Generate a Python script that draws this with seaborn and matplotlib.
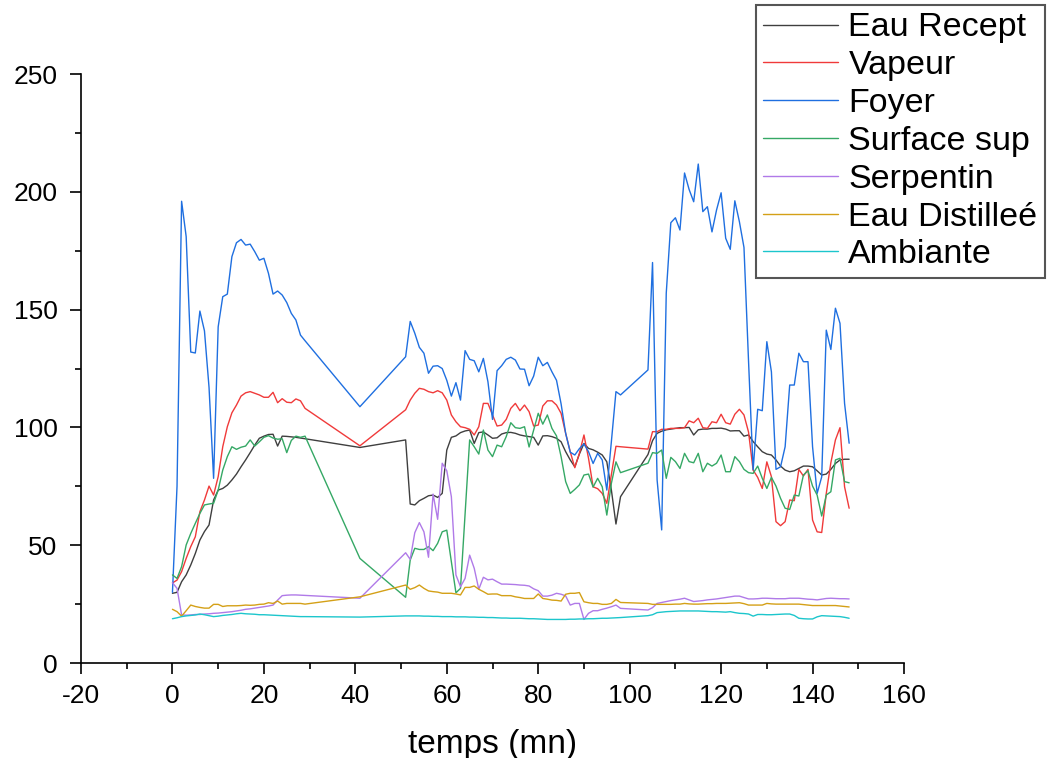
import matplotlib
matplotlib.use("Agg")
import matplotlib.pyplot as plt
from matplotlib.lines import Line2D
from matplotlib.ticker import MultipleLocator
import pandas as pd
import seaborn as sns

# Sampling times (minutes)
temps = [0, 1, 2, 3, 4, 5, 6, 7, 8, 9, 10, 11, 12, 13, 14, 15, 16, 17, 18, 19,
         20, 21, 22, 23, 24, 25, 26, 27, 28, 29,
         41,
         51, 52, 53, 54, 55, 56, 57, 58, 59, 60, 61, 62, 63, 64, 65, 66, 67, 68, 69,
         70, 71, 72, 73, 74, 75, 76, 77, 78, 79, 80, 81, 82, 83, 84, 85, 86, 87, 88,
         89, 90, 91, 92, 93, 94, 95, 96, 97, 98,
         104, 105, 106, 107, 108, 109, 110, 111, 112, 113, 114, 115, 116, 117, 118,
         119, 120, 121, 122, 123, 124, 125, 126, 127, 128, 129, 130, 131, 132, 133,
         134, 135, 136, 137, 138, 139, 140, 141, 142, 143, 144, 145, 146, 147, 148]

eau_recept = [29.6, 30, 34.5, 37.4, 41.6, 46.5, 52.2, 55.8, 58.6, 69.2, 73.4, 74.1, 75.5, 77.7, 80.2,
              83.3, 86.2, 89.3, 92.5, 95.4, 96.3, 97, 97.1, 92.1, 96.3, 96.2, 96, 95.8, 95.5, 95.2,
              91.5,
              94.7, 67.5, 67.1, 68.9, 69.9, 71, 71.3, 70.3, 72, 90.4, 95.8, 96.4, 97.8, 98.5, 98.9,
              93.2, 97.8, 98.1, 96.8, 95.4, 95.6, 97.2, 97.8, 97.9, 97.5, 96.8, 96.4, 96.1, 95.8,
              92.5, 96.4, 96.5, 96.1, 95.4, 93.9, 89.7, 86.2, 83.3, 88.7, 93.2, 91.1, 90.5, 89.5,
              88.3, 85.4, 73.4, 59, 70.6,
              88.5, 94.4, 97.5, 98.4, 99, 99.3, 99.6, 99.9, 99.9, 100, 96.8, 99, 99.3, 99.3, 99.6,
              99.6, 99.7, 99.3, 98.5, 98.6, 98.6, 96.3, 96.8, 94, 91.8, 89.7, 88.7, 88.3, 86.2, 83.6,
              81.9, 81.2, 81.6, 82.6, 83.6, 83.6, 83.3, 81.6, 79.8, 80.2, 82.2, 84.7, 86.2, 86.5, 86.5]

vapeur = [34, 35.2, 38.8, 44.4, 49.4, 53.6, 64.2, 69.2, 75.1, 71.3, 79.1, 91.8, 100.3, 106.2, 109.5,
          113.3, 114.7, 115.2, 114.5, 113.8, 112.8, 112.8, 114.9, 110.5, 112.2, 110.7, 110.5, 112.1,
          111.3, 108.1,
          92.2,
          107.5, 111.6, 114.5, 116.6, 116.2, 115.2, 114.7, 115.6, 114.7, 111.6, 105.3, 102.4, 100.3,
          99.9, 99.2, 96.8, 100.3, 110.2, 110.2, 105.3, 100.6, 101, 103.4, 108.1, 110.2, 107.1, 109.5,
          106.7, 100.6, 101, 109.1, 111.3, 111.3, 109.5, 106, 97.5, 89.7, 82.9, 89, 96.8, 86.9, 74.8,
          74, 72, 67.8, 80, 92, 91.8,
          90.8, 98.2, 98.2, 99.2, 99.2, 99.6, 99.6, 99.6, 99.9, 102.8, 102, 103.9, 99.9, 99.6, 102.4,
          102, 105.6, 102, 101.4, 105.6, 107.7, 105.3, 98, 81.9, 78.8, 74.1, 85.4, 79.1, 60, 58.3,
          60, 69.2, 68.9, 82.2, 79.4, 82.2, 60.7, 55.7, 55.4, 72, 85, 94.7, 99.9, 74.8, 65.7]

foyer = [30, 75, 196, 181, 132, 131.6, 149.4, 141, 117, 78.4, 142.7, 155.5, 156.6, 172.5, 178.4,
         179.8, 177.4, 177.8, 174.6, 171, 171.8, 165.4, 156.6, 157.9, 156.2, 153, 148.4, 145.6,
         139.2, 136.8,
         108.8,
         130, 145, 140, 134, 131.5, 123, 126, 126.2, 125, 120, 113.3, 119, 111.6, 132.6, 128.9,
         128.3, 123.6, 129.3, 119.4, 103.4, 124.1, 126.2, 128.9, 129.8, 128.6, 124.8, 124.7, 117.7,
         121.8, 129.8, 126.2, 127.6, 123.6, 120, 110, 97.5, 89.5, 88.3, 91, 93, 89.7, 84.7, 89,
         86.2, 73.4, 94, 115.2, 113.8,
         124.4, 170, 77.7, 56.5, 157, 186.9, 189, 183.8, 208, 201, 195.8, 211.8, 191.6, 193.7, 183,
         192.3, 199.6, 180.3, 175.6, 196.2, 187.3, 176.4, 128, 82, 107.7, 107.1, 136.4, 123.6, 82.2,
         83.3, 91.8, 118, 118, 131.5, 127.9, 127.9, 91.8, 72, 79, 141.3, 133.1, 150.6, 144.2, 110.2,
         93.3]

surface_sup = [37.4, 35.9, 40.9, 50.1, 55, 59.3, 63.5, 67.1, 67.5, 67.8, 73.4, 81.9, 87.6, 91.8, 90.7,
               91.6, 92.1, 94.7, 92.1, 93.9, 95.8, 96.5, 95.5, 95, 95.2, 89.3, 94.5, 96.3, 95.8, 96.3,
               44.4,
               27.9, 43.7, 48.7, 48.2, 48.2, 49.4, 47.7, 50.8, 55.7, 56.4, 43, 29.8, 31.7, 63.2, 94.7,
               91.8, 88.7, 98.9, 90.4, 87.6, 92.5, 91.8, 96.1, 102, 99.9, 99.6, 100.3, 91.7, 98.9, 106,
               101.4, 105.3, 99.6, 96.4, 87.6, 77, 72, 73.7, 75.6, 79.8, 80.2, 74.7, 78.4, 74.8, 62.8,
               76.3, 85.4, 80.8,
               84.8, 89.3, 89, 90.4, 78.4, 87.3, 85.5, 82.6, 89, 85.5, 85, 89, 81.2, 84.8, 83.6, 84.8,
               88.3, 81.2, 81.2, 87.6, 85.5, 82.2, 80.8, 80.5, 83.6, 78.4, 74.1, 78.8, 75.1, 69.9, 65.7,
               65.2, 71.3, 70.9, 79.8, 81.6, 75.1, 71.3, 62.4, 71.3, 72.7, 86.2, 86.9, 77, 76.5]

serpentin = [34.1, 31.7, 20.4, 20.3, 20.4, 20.6, 20.6, 20.8, 20.9, 21.1, 21.2, 21.4, 21.6, 21.8, 22.1,
             22.4, 22.8, 23, 23.3, 23.6, 23.9, 24.2, 24.6, 26.7, 28.6, 28.8, 28.9, 28.9, 28.8, 28.7,
             27.5,
             46.8, 44, 55.3, 59.6, 55.7, 44.9, 71.7, 61, 84.8, 81.6, 70.6, 37.4, 32.4, 35.9, 45.8, 40.2,
             31.3, 36.4, 35.3, 35.6, 34.5, 33.5, 33.5, 33.4, 33.3, 33.1, 33, 32.7, 31.5, 30.7, 28.4,
             28.4, 28.8, 29.6, 29.2, 28.5, 24.6, 25.3, 25.3, 18.5, 21.1, 22.2, 22.2, 22.8, 23.3, 23.9,
             24.6, 23.2,
             22.5, 23.5, 25.3, 25.7, 26.1, 26.5, 26.8, 27.1, 27.5, 26.8, 26.1, 26.3, 26.5, 26.8, 27,
             27.2, 27.5, 27.8, 28.1, 28.4, 28.4, 27.8, 27.2, 27.2, 27.3, 27.5, 27.5, 27.4, 27.3, 27.3,
             27.3, 27.5, 27.5, 27.5, 27.3, 27.1, 27, 26.8, 27.1, 27.4, 27.5, 27.4, 27.3, 27.3, 27.2]

eau_distillee = [22.8, 21.8, 19.9, 22.2, 24.6, 24, 23.6, 23.3, 23.3, 24.9, 24.9, 24, 24.3, 24.3, 24.3,
                 24.4, 24.6, 24.5, 24.6, 24.9, 25, 25.6, 25.3, 26.3, 25, 25.3, 25.3, 25.3, 25.3, 25,
                 28.1,
                 33.1, 31.3, 32, 33.1, 31.7, 30.6, 30.3, 30.1, 29.6, 29.6, 29.6, 29.3, 28.9, 32.1, 32.1,
                 32.7, 31.3, 30.3, 29.2, 29.3, 29.3, 28.6, 28.6, 28.6, 28.1, 27.8, 27.4, 27.4, 27.4,
                 29.3, 27.4, 27.1, 26.7, 26.6, 26.3, 29.2, 29.6, 29.6, 29.9, 26, 25.6, 25.3, 25.3, 24.9,
                 24.9, 25.3, 27, 25.7,
                 25.3, 24.9, 24.9, 24.9, 24.9, 24.9, 25, 25, 25.3, 25.1, 25, 25, 25.1, 25.2, 25.2, 25.3,
                 25.3, 25.3, 25.4, 25.5, 25.6, 25.2, 24.6, 24.6, 24.6, 24.6, 25.3, 25.1, 25, 25, 25, 25,
                 25, 25, 24.8, 24.6, 24.4, 24.4, 24.4, 24.4, 24.4, 24.4, 24.2, 24, 23.8]

ambiante = [18.8, 19.2, 19.7, 20, 20.2, 20.4, 20.8, 20.5, 20.1, 19.7, 19.9, 20.2, 20.4, 20.6, 20.9,
            21.1, 20.9, 20.8, 20.7, 20.5, 20.5, 20.4, 20.3, 20.2, 20.1, 20, 19.9, 19.8, 19.7, 19.7,
            19.5,
            20, 20, 20, 20, 19.9, 19.9, 19.8, 19.8, 19.7, 19.7, 19.7, 19.6, 19.6, 19.6, 19.5, 19.5,
            19.4, 19.4, 19.3, 19.3, 19.2, 19.1, 19.1, 19, 19, 19, 18.9, 18.8, 18.8, 18.7, 18.6, 18.5,
            18.5, 18.5, 18.5, 18.5, 18.6, 18.6, 18.7, 18.7, 18.8, 18.8, 18.9, 19, 19, 19.1, 19.2, 19.3,
            20.1, 20.5, 21.4, 21.6, 21.8, 21.9, 22, 22.1, 22.1, 22.1, 22.1, 22.1, 22, 21.9, 21.8, 21.8,
            21.7, 21.6, 21.8, 21.4, 21.1, 21, 20.8, 19.9, 20.6, 20.6, 20.5, 20.5, 20.6, 20.7, 20.8,
            20.8, 20.2, 19, 18.8, 18.7, 18.7, 19.6, 20.1, 20, 19.9, 19.8, 19.7, 19.4, 19]

series_names = ["Eau Recept", "Vapeur", "Foyer", "Surface sup", "Serpentin",
                "Eau Distilleé", "Ambiante"]
series_values = [eau_recept, vapeur, foyer, surface_sup, serpentin, eau_distillee, ambiante]
series_colors = ["#3f3f3f", "#f03a3a", "#1f6fe0", "#35a865", "#b07ae8", "#d4a017", "#1cc6cc"]

sns.set_theme(style="white")
plt.rcParams["font.family"] = ["Liberation Sans", "DejaVu Sans"]
plt.rcParams["axes.unicode_minus"] = False
plt.rcParams["text.color"] = "black"
plt.rcParams["axes.labelcolor"] = "black"
plt.rcParams["xtick.color"] = "black"
plt.rcParams["ytick.color"] = "black"

df = pd.concat(
    [pd.DataFrame({"temps": temps, "valeur": vals, "serie": name})
     for name, vals in zip(series_names, series_values)],
    ignore_index=True,
)

fig = plt.figure(figsize=(10.48, 7.58), dpi=100)
ax = fig.add_axes([0.0773, 0.1253, 0.7853, 0.777])

palette = dict(zip(series_names, series_colors))
sns.lineplot(data=df, x="temps", y="valeur", hue="serie", hue_order=series_names,
             palette=palette, estimator=None, sort=False, linewidth=1.0,
             legend=False, ax=ax)

ax.set_xlim(-20, 160)
ax.set_ylim(0, 250)
ax.xaxis.set_major_locator(MultipleLocator(20))
ax.xaxis.set_minor_locator(MultipleLocator(10))
ax.yaxis.set_major_locator(MultipleLocator(50))
ax.yaxis.set_minor_locator(MultipleLocator(25))

for side in ("top", "right"):
    ax.spines[side].set_visible(False)
for side in ("left", "bottom"):
    ax.spines[side].set_color("black")
    ax.spines[side].set_linewidth(1.2)

ax.tick_params(which="major", direction="out", length=8, width=1.2, colors="black",
               labelsize=19, bottom=True, left=True)
ax.tick_params(axis="y", which="major", pad=9)
ax.tick_params(axis="x", which="major", pad=7)
ax.tick_params(which="minor", direction="out", length=4, width=1.2, colors="black",
               bottom=True, left=True)

ax.set_xlabel("temps (mn)", fontsize=24, labelpad=15, color="black")
ax.set_ylabel("")
ax.grid(False)

handles = [Line2D([0], [0], color=c, linewidth=1.0) for c in series_colors]
leg = ax.legend(handles, series_names, loc="upper right",
                bbox_to_anchor=(1045 / 1048, 1 - 5 / 758), bbox_transform=fig.transFigure,
                fontsize=24.5, frameon=True, fancybox=False, framealpha=1,
                edgecolor="#555555", handlelength=2.2, handletextpad=0.3,
                labelspacing=0.2, borderpad=0.22, borderaxespad=0)
leg.get_frame().set_linewidth(1.5)
for txt in leg.get_texts():
    txt.set_color("black")

fig.savefig("out.png", dpi=100)
